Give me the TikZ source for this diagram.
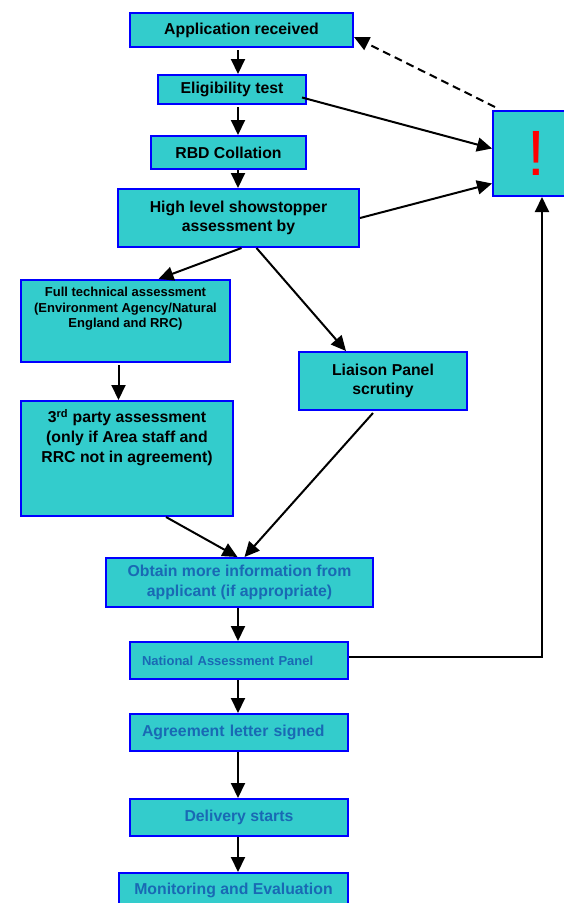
\documentclass[tikz,border=0pt]{standalone}
\usepackage{fontspec}
\setmainfont{Liberation Sans}
\usetikzlibrary{arrows.meta}
\definecolor{boxfill}{HTML}{33CCCC}
\definecolor{boxline}{HTML}{0000FF}
\definecolor{textblue}{RGB}{25,105,180}

\begin{document}
\begin{tikzpicture}[x=1pt, y=-1pt,
    box/.style={draw=boxline, line width=2pt, fill=boxfill, anchor=north west, inner sep=0pt,
      align=center, font=\bfseries\fontsize{15.8}{19.5}\selectfont},
    bluetext/.style={text=textblue},
    lefttext/.style={align=left, inner xsep=12pt, text width=194pt},
    boxtext/.style={inner sep=0pt, align=center, anchor=north},
    arr/.style={line width=2pt, -{Triangle[length=15pt,width=14pt]}}]
        \useasboundingbox (0,0) rectangle (563,903);
        \coordinate (spine) at (238,0);

        \node[box, minimum width=223pt, minimum height=34pt] (app) at (129,12) {Application received};
        \node[box, minimum width=148pt, minimum height=29pt] (elig) at (157,74) {Eligibility test};
        \node[box, minimum width=155pt, minimum height=33pt] (rbd) at (150,135) {RBD Collation};
        \node[box, minimum width=241pt, minimum height=58pt] (showstop) at (117,188) {High level showstopper\\assessment by};
        \node[box, minimum width=209pt, minimum height=82pt] (fulltech) at (20,279) {};
        \node[boxtext, font=\bfseries\fontsize{13}{15.5}\selectfont] (fulltext) at ([yshift=-8pt]fulltech.north)
            {Full technical assessment\\(Environment Agency/Natural\\England and RRC)};
        \node[box, minimum width=168pt, minimum height=58pt] (liaison) at (298,351) {Liaison Panel\\scrutiny};
        \node[box, minimum width=212pt, minimum height=115pt] (third) at (20,400) {};
        \node[boxtext, font=\bfseries\fontsize{15.8}{20}\selectfont] (thirdtext) at ([yshift=-9pt]third.north)
            {3\textsuperscript{rd} party assessment\\(only if Area staff and\\RRC not in agreement)};
        \node[box, bluetext, minimum width=267pt, minimum height=49pt] (obtain) at (105,557) {Obtain more information from\\applicant (if appropriate)};
        \node[box, bluetext, lefttext, minimum width=218pt, minimum height=37pt, font=\bfseries\fontsize{13}{15}\selectfont] (natpanel) at (129,641) {National Assessment Panel};
        \node[box, bluetext, lefttext, minimum width=218pt, minimum height=37pt] (agree) at (129,713) {Agreement letter signed};
        \node[box, bluetext, minimum width=218pt, minimum height=37pt] (deliv) at (129,798) {Delivery starts};
        \node[box, bluetext, minimum width=229pt, minimum height=34pt] (monit) at (118,872) {Monitoring and Evaluation};
        \node[box, minimum width=86pt, minimum height=85pt, text=red, font=\fontsize{64}{64}\selectfont] (stop) at (492,110) {!};

        \draw[arr] ([yshift=-2pt]app.south -| spine) -- (elig.north -| spine);
        \draw[arr] ([yshift=-2pt]elig.south -| spine) -- (rbd.north -| spine);
        \draw[arr] (rbd.south -| spine) -- (showstop.north -| spine);
        \draw[arr] ([xshift=-5pt,yshift=-8pt]elig.east) -- ([yshift=5pt]stop.west);
        \draw[arr] (showstop.east) -- ([yshift=-30pt]stop.west);
        \draw[arr, dashed, dash pattern=on 8pt off 5pt] ([xshift=3pt,yshift=3pt]stop.north west) -- ([yshift=-7pt]app.east);
        \draw[arr] ([xshift=3pt]showstop.south) -- ([xshift=33pt]fulltech.north);
        \draw[arr] ([xshift=18pt]showstop.south) -- ([xshift=-37pt]liaison.north);
        \draw[arr] ([xshift=-7pt,yshift=-2pt]fulltech.south) -- ([xshift=-7pt]fulltech.south |- third.north);
        \draw[arr] ([xshift=39pt]third.south) -- ([xshift=-2pt]obtain.north);
        \draw[arr] ([xshift=-10pt,yshift=-2pt]liaison.south) -- ([xshift=5pt]obtain.north);
        \draw[arr] (obtain.south -| spine) -- (natpanel.north -| spine);
        \draw[arr] ([yshift=4pt]natpanel.east) -| ([xshift=6pt]stop.south);
        \draw[arr] (natpanel.south -| spine) -- (agree.north -| spine);
        \draw[arr] (agree.south -| spine) -- (deliv.north -| spine);
        \draw[arr] (deliv.south -| spine) -- (monit.north -| spine);
    \end{tikzpicture}
\end{document}
